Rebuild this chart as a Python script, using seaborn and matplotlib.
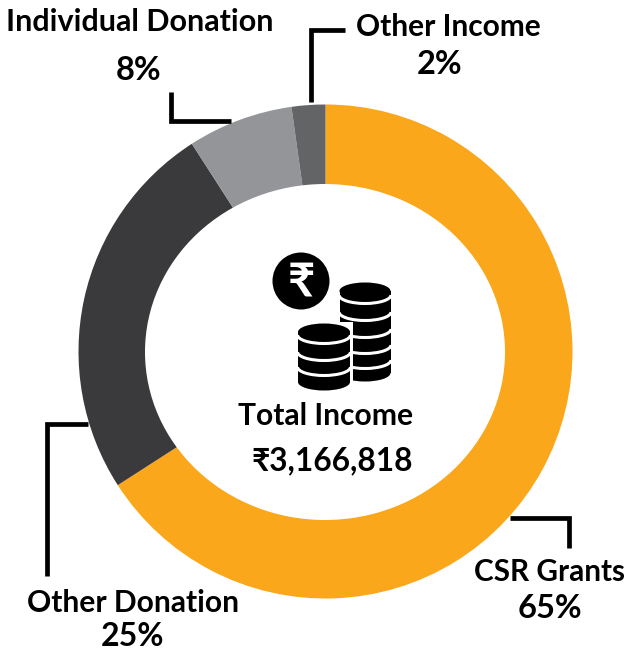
import matplotlib
matplotlib.use("Agg")
import matplotlib.pyplot as plt
from matplotlib.patches import Arc, Circle, Ellipse, Rectangle
import seaborn as sns

# valores (o rotulo arredonda um pouco diferente do arco)
categorias = ["CSR Grants", "Other Donation", "Individual Donation", "Other Income"]
fatias = [65.9, 25.0, 6.9, 2.2]
rotulos_pct = ["65%", "25%", "8%", "2%"]
cores = ["#FBA71B", "#3A3A3C", "#939598", "#636466"]
titulo_centro = "Total Income"
total_centro = "₹3,166,818"

LARGURA, ALTURA = 625, 652
FONTES = ["Lato", "DejaVu Sans"]

sns.set_theme(style="white")
plt.rcParams["font.family"] = FONTES
paleta = sns.color_palette(cores)

fig = plt.figure(figsize=(LARGURA / 100, ALTURA / 100), dpi=100)

# pizza num eixo proprio, posicionado em pixels
cx, cy, raio = 325.5, 351.5, 247
ax_pie = fig.add_axes([(cx - raio) / LARGURA, 1 - (cy + raio) / ALTURA, 2 * raio / LARGURA, 2 * raio / ALTURA])
ax_pie.pie(
    fatias,
    colors=paleta,
    startangle=90,
    counterclock=False,
    radius=1,
    wedgeprops=dict(linewidth=0),
)
ax_pie.set_xlim(-1, 1)
ax_pie.set_ylim(-1, 1)

# camada em pixels para o furo, linhas, textos e icone
ax = fig.add_axes([0, 0, 1, 1])
ax.set_xlim(0, LARGURA)
ax.set_ylim(ALTURA, 0)
ax.axis("off")
ax.patch.set_alpha(0)

# o furo do original nao e bem um circulo, e mais largo que alto
ax.add_patch(Ellipse((325, 352), 360, 336, fc="white", ec="none", zorder=1))

# linhas de chamada
linhas = [
    ([311, 311, 345], [102, 30, 30]),
    ([171, 171, 231], [92, 121, 121]),
    ([88, 47, 47], [424, 424, 576]),
    ([510, 569, 569], [518, 518, 548]),
]
for xs, ys in linhas:
    ax.plot(xs, ys, color="black", lw=3.4, solid_capstyle="butt", solid_joinstyle="miter")

# textos
textos = [
    (140, 22, categorias[2], 22),
    (139, 70, rotulos_pct[2], 23.5),
    (448, 27, categorias[3], 21.5),
    (440, 65, rotulos_pct[3], 23.5),
    (326, 416, titulo_centro, 21.6),
    (332, 461, total_centro, 22.8),
    (549, 572, categorias[0], 21.4),
    (550, 608, rotulos_pct[0], 23.5),
    (133, 603, categorias[1], 21.6),
    (133, 637, rotulos_pct[1], 23),
]
for x, y, s, tam in textos:
    ax.text(x, y, s, ha="center", va="center", fontsize=tam, fontweight="bold", color="black")


def moedas(xc, topo, base, rx, ry, arcos, z):
    ax.add_patch(Rectangle((xc - rx, topo), 2 * rx, base - topo, fc="black", ec="none", zorder=z))
    ax.add_patch(Ellipse((xc, topo), 2 * rx, 2 * ry, fc="black", ec="none", zorder=z))
    ax.add_patch(Ellipse((xc, base), 2 * rx, 2 * ry, fc="black", ec="none", zorder=z))
    for y in arcos:
        ax.add_patch(Arc((xc, y), 2 * rx + 1, 2 * ry, theta1=0, theta2=180, color="white", lw=2.2, zorder=z + 0.1))


moedas(365, 291, 373, 25.5, 8.5, [295, 312, 329, 345, 360], 3)
ax.add_patch(Rectangle((295, 322), 58, 72, fc="white", ec="none", zorder=3.5))
moedas(324, 332, 382, 26, 8.5, [335, 352, 367], 4)

ax.add_patch(Circle((301, 281), 28.5, fc="black", ec="none", zorder=5))
ax.text(301, 281, "₹", ha="center", va="center", fontsize=34, fontweight="bold", color="white", zorder=6)

fig.savefig("out.png", dpi=100)
